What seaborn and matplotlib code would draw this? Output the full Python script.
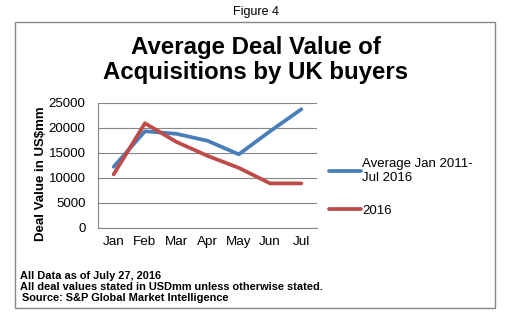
import matplotlib
matplotlib.use("Agg")
import matplotlib.pyplot as plt
import seaborn as sns
import pandas as pd
from matplotlib.patches import Rectangle

months = ["Jan", "Feb", "Mar", "Apr", "May", "Jun", "Jul"]
avg_2011_2016 = [12200, 19300, 18800, 17400, 14700, 19300, 23700]
y2016 = [10700, 20900, 17200, 14400, 12000, 8900, 8900]
series_names = ["Average Jan 2011-\nJul 2016", "2016"]
colors = ["#4A7EBB", "#BE4B48"]
y_ticks = [0, 5000, 10000, 15000, 20000, 25000]

df = pd.concat([
    pd.DataFrame({"Month": months, "Value": avg_2011_2016, "Series": series_names[0]}),
    pd.DataFrame({"Month": months, "Value": y2016, "Series": series_names[1]}),
])

sns.set_theme(style="white")
plt.rcParams["font.family"] = ["Liberation Sans", "DejaVu Sans"]
plt.rcParams["text.color"] = "black"
plt.rcParams["axes.labelcolor"] = "black"
plt.rcParams["xtick.labelcolor"] = "black"
plt.rcParams["ytick.labelcolor"] = "black"

fig = plt.figure(figsize=(5.12, 3.26), dpi=100)
ax = fig.add_axes([98/512, 1-228/326, (317-98)/512, (228-102.7)/326])

sns.lineplot(data=df, x="Month", y="Value", hue="Series", palette=colors,
             linewidth=2.7, ax=ax, sort=False)

ax.set_xlim(-0.5, 6.5)
ax.set_ylim(0, 25000)
ax.set_yticks(y_ticks)
ax.set_yticklabels([str(v) for v in y_ticks], fontsize=9.5)
ax.set_xticks(range(len(months)))
ax.set_xticklabels(months, fontsize=9.7)
ax.set_xticks([i - 0.5 for i in range(len(months) + 1)], minor=True)
ax.tick_params(axis="x", which="major", length=0, pad=6)
ax.tick_params(axis="x", which="minor", length=4, width=0.8, color="#868686", direction="out")
ax.tick_params(axis="y", which="major", length=4, width=0.8, color="#868686", direction="out", pad=5)
ax.grid(axis="y", color="#868686", linewidth=0.8)
ax.set_axisbelow(True)
for s in ["top", "right"]:
    ax.spines[s].set_visible(False)
for s in ["left", "bottom"]:
    ax.spines[s].set_color("#868686")
    ax.spines[s].set_linewidth(0.8)
ax.set_xlabel("")
ax.set_ylabel("Deal Value in US$mm", fontsize=9.5, fontweight="bold")
ax.yaxis.set_label_coords(-0.231, 0.43)

handles, labels = ax.get_legend_handles_labels()
ax.legend(handles, labels, loc="center left", bbox_to_anchor=(1.03, 0.324),
          frameon=False, fontsize=9.5, handlelength=2.46, handletextpad=0.05,
          labelspacing=1.55, borderaxespad=0)

fig.text(256/512, 1-12/326, "Figure 4", ha="center", va="center", fontsize=9)
fig.text(256/512, 1-60/326, "Average Deal Value of\nAcquisitions by UK buyers",
         ha="center", va="center", fontsize=17.3, fontweight="bold", linespacing=1.1)
fig.text(19.5/512, 1-276/326, "All Data as of July 27, 2016", ha="left", va="center",
         fontsize=7.9, fontweight="bold")
fig.text(19.5/512, 1-287/326, "All deal values stated in USDmm unless otherwise stated.",
         ha="left", va="center", fontsize=7.9, fontweight="bold")
fig.text(22/512, 1-298/326, "Source: S&P Global Market Intelligence", ha="left", va="center",
         fontsize=7.9, fontweight="bold")

fig.patches.append(Rectangle((15/512, 1-308/326), (495-15)/512, (308-22)/326,
                             transform=fig.transFigure, fill=False,
                             edgecolor="#868686", linewidth=1.0))

fig.savefig("out.png", dpi=100)
